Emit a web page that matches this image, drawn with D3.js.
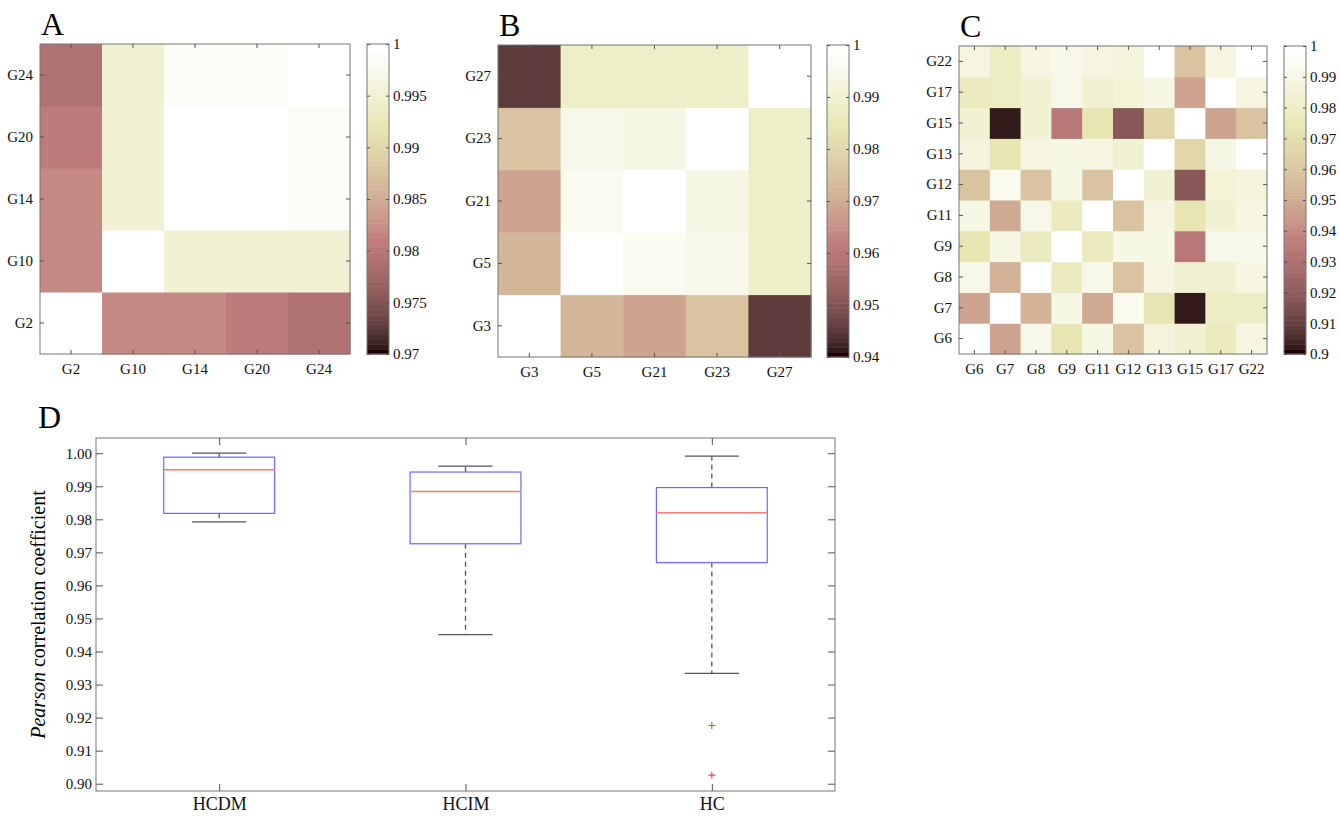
<!DOCTYPE html>
<html>
<head>
<meta charset="utf-8">
<script src="https://d3js.org/d3.v7.min.js"></script>
<style>
body { margin: 0; background: #fff; }
text { font-family: "Liberation Serif", "Times New Roman", serif; }
</style>
</head>
<body>
<svg id="fig" width="1340" height="816"></svg>
<script>
// Panel A data
var labelsA = ['G2', 'G10', 'G14', 'G20', 'G24'];
var matrixA = [
    [1.0000, 0.9820, 0.9820, 0.9805, 0.9792],
    [0.9820, 1.0000, 0.9950, 0.9950, 0.9950],
    [0.9820, 0.9950, 1.0000, 0.99995, 0.9986],
    [0.9805, 0.9950, 0.99995, 1.0000, 0.9988],
    [0.9792, 0.9950, 0.9986, 0.9988, 1.0000]
];
var climA = [0.97, 1];
var ticksA = [0.97, 0.975, 0.98, 0.985, 0.99, 0.995, 1];

// Panel B data
var labelsB = ['G3', 'G5', 'G21', 'G23', 'G27'];
var matrixB = [
    [1.0000, 0.9726, 0.9690, 0.9754, 0.9451],
    [0.9726, 1.0000, 0.9961, 0.9950, 0.9880],
    [0.9690, 0.9961, 1.0000, 0.9943, 0.9880],
    [0.9754, 0.9950, 0.9943, 1.0000, 0.9885],
    [0.9451, 0.9880, 0.9880, 0.9885, 1.0000]
];
var climB = [0.94, 1];
var ticksB = [0.94, 0.95, 0.96, 0.97, 0.98, 0.99, 1];

// Panel C data
var labelsC = ['G6', 'G7', 'G8', 'G9', 'G11', 'G12', 'G13', 'G15', 'G17', 'G22'];
var matrixC = [
    [1.000, 0.948, 0.992, 0.972, 0.990, 0.958, 0.987, 0.983, 0.977, 0.988],
    [0.948, 1.000, 0.953, 0.990, 0.949, 0.993, 0.973, 0.9026, 0.979, 0.979],
    [0.992, 0.953, 1.000, 0.977, 0.991, 0.959, 0.989, 0.984, 0.983, 0.989],
    [0.972, 0.990, 0.977, 1.000, 0.977, 0.990, 0.990, 0.9334, 0.991, 0.991],
    [0.990, 0.949, 0.991, 0.977, 1.000, 0.958, 0.989, 0.973, 0.984, 0.988],
    [0.958, 0.993, 0.959, 0.990, 0.958, 1.000, 0.984, 0.9176, 0.985, 0.987],
    [0.987, 0.973, 0.989, 0.990, 0.989, 0.984, 1.000, 0.967, 0.990, 0.9991],
    [0.983, 0.9026, 0.984, 0.9334, 0.973, 0.9176, 0.967, 1.000, 0.948, 0.959],
    [0.977, 0.979, 0.983, 0.991, 0.984, 0.985, 0.990, 0.948, 1.000, 0.989],
    [0.988, 0.979, 0.989, 0.991, 0.988, 0.987, 0.9991, 0.959, 0.989, 1.000]
];
var climC = [0.9, 1];
var ticksC = [0.9, 0.91, 0.92, 0.93, 0.94, 0.95, 0.96, 0.97, 0.98, 0.99, 1];

// Panel D data (box plot statistics)
var groups = ['HCDM', 'HCIM', 'HC'];
var whiskerLow = [0.9792, 0.9451, 0.9334];
var quart1 = [0.9818, 0.9726, 0.9669];
var medians = [0.9950, 0.9884, 0.9820];
var quart3 = [0.9988, 0.9943, 0.9896];
var whiskerHigh = [1.0000, 0.9961, 0.9991];
var outliers = [[], [], [0.9176, 0.9026]];
var ticksD = [0.90, 0.91, 0.92, 0.93, 0.94, 0.95, 0.96, 0.97, 0.98, 0.99, 1.00];

var svg = d3.select('#fig');

// MATLAB style "pink" colormap, 64 steps
var pinkMap = function (m) {
    var n = Math.floor(3 / 8 * m);
    var out = [];
    for (var k = 0; k < m; k++) {
        var gray = k / (m - 1);
        var rH = k < n ? (k + 1) / n : 1;
        var gH = k < n ? 0 : (k < 2 * n ? (k - n + 1) / n : 1);
        var bH = k < 2 * n ? 0 : (k - 2 * n + 1) / (m - 2 * n);
        out.push(d3.rgb(
            255 * Math.sqrt((2 * gray + rH) / 3),
            255 * Math.sqrt((2 * gray + gH) / 3),
            255 * Math.sqrt((2 * gray + bH) / 3)).formatHex());
    }
    return out;
};
var pal = pinkMap(64);

var styleAxis = function (g, size) {
    g.select('.domain').remove();
    g.attr('color', '#555');
    g.selectAll('text')
        .attr('fill', '#111')
        .style('font-family', '"Liberation Serif", "Times New Roman", serif')
        .style('font-size', size + 'px');
};

var drawHeatmap = function (o) {
    var g = svg.append('g');
    var x = d3.scaleBand().domain(o.labels).range([o.x0, o.x1]);
    var y = d3.scaleBand().domain(o.labels).range([o.y1, o.y0]);
    var color = d3.scaleQuantize().domain(o.clim).range(pal);

    var cells = [];
    o.matrix.forEach(function (row, i) {
        row.forEach(function (v, j) {
            cells.push({ r: o.labels[i], c: o.labels[j], v: v });
        });
    });

    g.selectAll('rect.cell')
        .data(cells)
        .enter()
        .append('rect')
        .attr('class', 'cell')
        .attr('x', function (d) { return x(d.c); })
        .attr('y', function (d) { return y(d.r); })
        .attr('width', x.bandwidth() + 0.5)
        .attr('height', y.bandwidth() + 0.5)
        .attr('fill', function (d) { return color(d.v); });

    g.append('rect')
        .attr('x', o.x0).attr('y', o.y0)
        .attr('width', o.x1 - o.x0).attr('height', o.y1 - o.y0)
        .attr('fill', 'none').attr('stroke', '#777').attr('stroke-width', 1);

    g.append('g').attr('transform', 'translate(0,' + o.y1 + ')')
        .call(d3.axisBottom(x).tickSize(-4).tickPadding(9))
        .call(styleAxis, 15);
    g.append('g').attr('transform', 'translate(' + o.x0 + ',0)')
        .call(d3.axisLeft(y).tickSize(-4).tickPadding(7))
        .call(styleAxis, 15);
    g.append('g').attr('transform', 'translate(0,' + o.y0 + ')')
        .call(d3.axisTop(x).tickSize(-4).tickFormat(''))
        .call(styleAxis, 15);
    g.append('g').attr('transform', 'translate(' + o.x1 + ',0)')
        .call(d3.axisRight(y).tickSize(-4).tickFormat(''))
        .call(styleAxis, 15);

    // colorbar
    var cy = d3.scaleLinear().domain(o.clim).range([o.y1, o.y0]);
    var step = (o.clim[1] - o.clim[0]) / pal.length;
    g.selectAll('rect.band')
        .data(pal)
        .enter()
        .append('rect')
        .attr('class', 'band')
        .attr('x', o.cbX)
        .attr('y', function (d, k) { return cy(o.clim[0] + (k + 1) * step); })
        .attr('width', o.cbW)
        .attr('height', function (d, k) { return cy(o.clim[0] + k * step) - cy(o.clim[0] + (k + 1) * step) + 0.5; })
        .attr('fill', function (d) { return d; });
    g.append('rect')
        .attr('x', o.cbX).attr('y', o.y0)
        .attr('width', o.cbW).attr('height', o.y1 - o.y0)
        .attr('fill', 'none').attr('stroke', '#777').attr('stroke-width', 1);
    g.append('g').attr('transform', 'translate(' + (o.cbX + o.cbW) + ',0)')
        .call(d3.axisRight(cy).tickValues(o.ticks).tickSize(-3).tickPadding(4).tickFormat(d3.format('~g')))
        .call(styleAxis, 15);
    g.append('g').attr('transform', 'translate(' + o.cbX + ',0)')
        .call(d3.axisLeft(cy).tickValues(o.ticks).tickSize(-3).tickFormat(''))
        .call(styleAxis, 15);

    g.append('text')
        .attr('x', o.x0 + 1).attr('y', o.y0 - 9)
        .attr('font-size', 32)
        .text(o.name);
};

drawHeatmap({ name: 'A', labels: labelsA, matrix: matrixA, clim: climA, ticks: ticksA,
    x0: 40, x1: 350, y0: 44, y1: 354, cbX: 367, cbW: 22 });
drawHeatmap({ name: 'B', labels: labelsB, matrix: matrixB, clim: climB, ticks: ticksB,
    x0: 498, x1: 811, y0: 45, y1: 357, cbX: 827, cbW: 22 });
drawHeatmap({ name: 'C', labels: labelsC, matrix: matrixC, clim: climC, ticks: ticksC,
    x0: 959, x1: 1267, y0: 46, y1: 354, cbX: 1284, cbW: 22 });

// Panel D: box plot
var d = { x0: 96, x1: 835, y0: 438, y1: 791 };
var gx = d3.scalePoint().domain(groups).range([d.x0, d.x1]).padding(0.5);
var gy = d3.scaleLinear().domain([0.8978, 1.0046]).range([d.y1, d.y0]);
var boxW = gx.step() * 0.45;
var capW = gx.step() * 0.22;

var gD = svg.append('g');
gD.append('rect')
    .attr('x', d.x0).attr('y', d.y0)
    .attr('width', d.x1 - d.x0).attr('height', d.y1 - d.y0)
    .attr('fill', 'none').attr('stroke', '#777').attr('stroke-width', 1);

gD.append('g').attr('transform', 'translate(0,' + d.y1 + ')')
    .call(d3.axisBottom(gx).tickSize(-7).tickPadding(6))
    .call(styleAxis, 18);
gD.append('g').attr('transform', 'translate(0,' + d.y0 + ')')
    .call(d3.axisTop(gx).tickSize(-7).tickFormat(''))
    .call(styleAxis, 18);
gD.append('g').attr('transform', 'translate(' + d.x0 + ',0)')
    .call(d3.axisLeft(gy).tickValues(ticksD).tickSize(-7).tickPadding(4).tickFormat(d3.format('.2f')))
    .call(styleAxis, 15);
gD.append('g').attr('transform', 'translate(' + d.x1 + ',0)')
    .call(d3.axisRight(gy).tickValues(ticksD).tickSize(-7).tickFormat(''))
    .call(styleAxis, 15);

var boxes = groups.map(function (name, i) {
    return { name: name, lo: whiskerLow[i], q1: quart1[i], med: medians[i], q3: quart3[i], hi: whiskerHigh[i], out: outliers[i] };
});

var box = gD.selectAll('g.box')
    .data(boxes)
    .enter()
    .append('g')
    .attr('class', 'box');

// dashed whiskers
box.append('line')
    .attr('x1', function (b) { return gx(b.name); })
    .attr('x2', function (b) { return gx(b.name); })
    .attr('y1', function (b) { return gy(b.q3); })
    .attr('y2', function (b) { return gy(b.hi); })
    .attr('stroke', '#555').attr('stroke-width', 1.3).attr('stroke-dasharray', '5,4');
box.append('line')
    .attr('x1', function (b) { return gx(b.name); })
    .attr('x2', function (b) { return gx(b.name); })
    .attr('y1', function (b) { return gy(b.q1); })
    .attr('y2', function (b) { return gy(b.lo); })
    .attr('stroke', '#555').attr('stroke-width', 1.3).attr('stroke-dasharray', '5,4');

// whisker caps
['hi', 'lo'].forEach(function (key) {
    box.append('line')
        .attr('x1', function (b) { return gx(b.name) - capW / 2; })
        .attr('x2', function (b) { return gx(b.name) + capW / 2; })
        .attr('y1', function (b) { return gy(b[key]); })
        .attr('y2', function (b) { return gy(b[key]); })
        .attr('stroke', '#555').attr('stroke-width', 1.2);
});

box.append('rect')
    .attr('x', function (b) { return gx(b.name) - boxW / 2; })
    .attr('y', function (b) { return gy(b.q3); })
    .attr('width', boxW)
    .attr('height', function (b) { return gy(b.q1) - gy(b.q3); })
    .attr('fill', 'none').attr('stroke', '#6a6aff').attr('stroke-width', 1.2);

box.append('line')
    .attr('x1', function (b) { return gx(b.name) - boxW / 2; })
    .attr('x2', function (b) { return gx(b.name) + boxW / 2; })
    .attr('y1', function (b) { return gy(b.med); })
    .attr('y2', function (b) { return gy(b.med); })
    .attr('stroke', '#ff7a7a').attr('stroke-width', 1.4);

// outliers as red plus marks
box.each(function (b) {
    d3.select(this).selectAll('path.out')
        .data(b.out)
        .enter()
        .append('path')
        .attr('class', 'out')
        .attr('d', function (v) {
            var cx = gx(b.name), cyv = gy(v), s = 3.5;
            return 'M' + (cx - s) + ',' + cyv + 'H' + (cx + s) + 'M' + cx + ',' + (cyv - s) + 'V' + (cyv + s);
        })
        .attr('stroke', '#ff4040').attr('stroke-width', 1.1);
});

// y axis title
var title = gD.append('text')
    .attr('transform', 'translate(45,' + ((d.y0 + d.y1) / 2) + ') rotate(-90)')
    .attr('text-anchor', 'middle')
    .attr('font-size', 20);
title.append('tspan').attr('font-style', 'italic').text('Pearson');
title.append('tspan').text(' correlation coefficient');

gD.append('text')
    .attr('x', 38).attr('y', 428)
    .attr('font-size', 32)
    .text('D');
</script>
</body>
</html>
